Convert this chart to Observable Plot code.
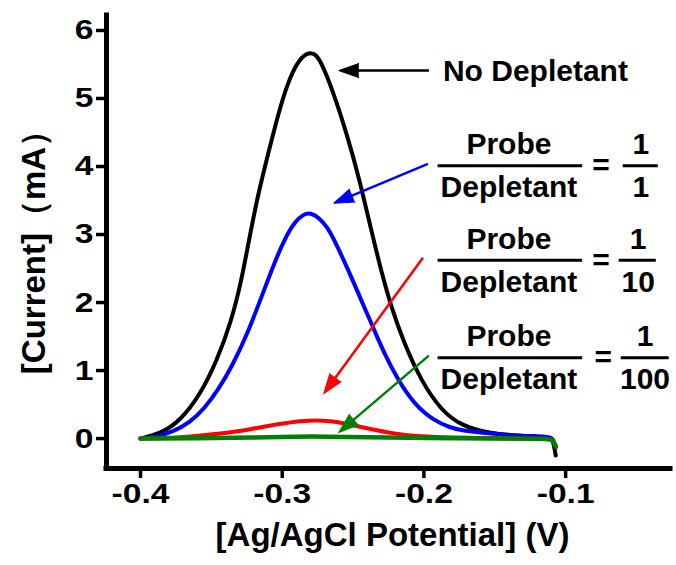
<!DOCTYPE html>
<html><head><meta charset="utf-8">
<script src="https://cdn.jsdelivr.net/npm/d3@7"></script>
<script src="https://cdn.jsdelivr.net/npm/@observablehq/plot@0.6"></script>
<style>
html,body{margin:0;padding:0;background:#fff;}
#chart{width:676px;height:565px;}
</style></head><body><div id="chart"></div>
<script>
// ---- data ----
const blackX = [-0.400,-0.386,-0.372,-0.358,-0.346,-0.336,-0.329,-0.324,-0.317,-0.310,-0.303,-0.296,-0.289,-0.282,-0.277,-0.273,-0.264,-0.254,-0.246,-0.237,-0.230,-0.223,-0.214,-0.202,-0.188,-0.174,-0.153,-0.131,-0.112,-0.109,-0.107];
const blackY = [0,0.07,0.26,0.64,1.15,1.72,2.30,2.86,3.60,4.18,4.76,5.24,5.55,5.68,5.66,5.56,5.10,4.45,3.85,3.05,2.45,1.93,1.40,0.85,0.42,0.19,0.07,0.04,0.015,0,-0.25];
const blueX = [-0.400,-0.390,-0.377,-0.365,-0.355,-0.345,-0.335,-0.325,-0.315,-0.306,-0.298,-0.291,-0.285,-0.280,-0.274,-0.268,-0.264,-0.254,-0.245,-0.237,-0.228,-0.218,-0.207,-0.193,-0.181,-0.174,-0.153,-0.131,-0.112,-0.109,-0.107];
const blueY = [0,0.02,0.10,0.24,0.44,0.72,1.08,1.52,2.06,2.56,2.95,3.19,3.30,3.32,3.25,3.10,2.95,2.51,2.07,1.69,1.25,0.85,0.51,0.26,0.16,0.12,0.07,0.04,0.03,0.01,-0.13];
const redX = [-0.400,-0.379,-0.360,-0.336,-0.322,-0.301,-0.287,-0.276,-0.266,-0.255,-0.240,-0.221,-0.202,-0.181,-0.146,-0.112,-0.109,-0.107];
const redY = [0,0.01,0.04,0.09,0.14,0.22,0.26,0.27,0.26,0.22,0.15,0.07,0.03,0.015,0.0,0.0,-0.02,-0.1];
const greenX = [-0.400,-0.360,-0.320,-0.290,-0.270,-0.240,-0.200,-0.150,-0.112,-0.109,-0.107];
const greenY = [0,0.005,0.015,0.03,0.03,0.02,0.01,0.0,0,-0.02,-0.12];

const xTicks = [-0.4,-0.3,-0.2,-0.1];
const yTicks = [0,1,2,3,4,5,6];
const xLabel = "[Ag/AgCl Potential] (V)";
const yLabel = "[Current]（mA）";

// annotations (data units)
const noteText = "No Depletant";
const noteX = -0.1866, noteY = 5.40;
const arrowStartX = [-0.1965,-0.1972,-0.2007,-0.1965];
const arrowStartY = [5.41,4.04,2.66,1.22];
const arrowTipX = [-0.2601,-0.2636,-0.2707,-0.2601];
const arrowTipY = [5.41,3.46,0.66,0.09];
const fracBarY = [4.01,2.62,1.19];
const fracWordX = -0.140, fracBarX1 = -0.190, fracBarX2 = -0.088;
const fracNumerator = "Probe", fracDenominator = "Depletant";
const ratioNum = ["1","1","1"];
const ratioDen = ["1","10","100"];
const ratioX = [-0.047,-0.0488,-0.044];
const ratioBarX1 = [-0.0594,-0.0622,-0.0608];
const ratioBarX2 = [-0.0346,-0.0360,-0.0269];
const eqX = [-0.075,-0.075,-0.0735];

// ---- layout ----
const W = 676, H = 565;
const mL = 106, mR = 6, mT = 15, mB = 97;
const xDomain = [-0.424, -0.026], yDomain = [-0.44, 6.22];
const kx = (W - mL - mR) / (xDomain[1] - xDomain[0]);
const ky = (H - mT - mB) / (yDomain[1] - yDomain[0]);

const seriesDefs = [
  {x: blackX, y: blackY, color: "#000000", w: 4},
  {x: blueX, y: blueY, color: "#0000ff", w: 4},
  {x: redX, y: redY, color: "#ff0000", w: 4},
  {x: greenX, y: greenY, color: "#008000", w: 4.5}
];
const arrowColors = ["#000000","#0000ff","#ff0000","#008000"];

const arrows = arrowStartX.map((x1, i) => {
  const x2 = arrowTipX[i], y2 = arrowTipY[i], y1 = arrowStartY[i];
  const dxp = (x2 - x1) * kx, dyp = -(y2 - y1) * ky;
  const len = Math.hypot(dxp, dyp);
  const f = (len - 12) / len;
  return {x1, y1, x2, y2, sx: x1 + (x2 - x1) * f, sy: y1 + (y2 - y1) * f,
          angle: Math.atan2(dxp, -dyp) * 180 / Math.PI, color: arrowColors[i]};
});

const font = "'Liberation Sans', Arial, Helvetica, sans-serif";
const marks = [];
// axis lines
marks.push(Plot.ruleX([xDomain[0]], {y1: yDomain[0], y2: yDomain[1], stroke: "#000", strokeWidth: 5, strokeLinecap: "square"}));
marks.push(Plot.ruleY([yDomain[0]], {x1: xDomain[0], x2: xDomain[1], stroke: "#000", strokeWidth: 5, strokeLinecap: "square"}));
marks.push(Plot.axisX({ticks: xTicks, tickFormat: d => d.toFixed(1), tickSize: 10, tickPadding: 5, strokeWidth: 3.5, fontSize: 28, fontWeight: "bold", label: null}));
marks.push(Plot.axisY({ticks: yTicks, tickFormat: d => String(d), tickSize: 10, tickPadding: 3, strokeWidth: 3.5, fontSize: 28, fontWeight: "bold", label: null}));
// curves
for (const s of seriesDefs) {
  const rows = s.x.map((x, i) => ({x, y: s.y[i]}));
  marks.push(Plot.line(rows, {x: "x", y: "y", stroke: s.color, strokeWidth: s.w, curve: "basis", strokeLinejoin: "round", strokeLinecap: "round"}));
}
// arrows
marks.push(Plot.link(arrows, {x1: "x1", y1: "y1", x2: "sx", y2: "sy", stroke: d => d.color, strokeWidth: 2.5}));
marks.push(Plot.vector(arrows, {x: "x2", y: "y2", rotate: "angle", length: 20, anchor: "end", shape: "spike", r: 7, fill: d => d.color, stroke: d => d.color, strokeWidth: 1, fillOpacity: 1}));
// annotation text
marks.push(Plot.text([noteText], {x: noteX, y: noteY, text: d => d, textAnchor: "start", fontSize: 30, fontWeight: "bold"}));
marks.push(Plot.ruleY(fracBarY, {x1: fracBarX1, x2: fracBarX2, stroke: "#000", strokeWidth: 3}));
marks.push(Plot.text(fracBarY, {x: fracWordX, y: d => d, text: () => fracNumerator, dy: -21, fontSize: 30, fontWeight: "bold"}));
marks.push(Plot.text(fracBarY, {x: fracWordX, y: d => d, text: () => fracDenominator, dy: 22, fontSize: 30, fontWeight: "bold"}));
marks.push(Plot.text(fracBarY, {x: (d, i) => eqX[i], y: d => d, text: () => "=", dy: 0, fontSize: 30, fontWeight: "bold"}));
marks.push(Plot.ruleY(fracBarY, {x1: (d, i) => ratioBarX1[i], x2: (d, i) => ratioBarX2[i], stroke: "#000", strokeWidth: 3}));
marks.push(Plot.text(fracBarY, {x: (d, i) => ratioX[i], y: d => d, text: (d, i) => ratioNum[i], dy: -21, fontSize: 30, fontWeight: "bold"}));
marks.push(Plot.text(fracBarY, {x: (d, i) => ratioX[i], y: d => d, text: (d, i) => ratioDen[i], dy: 22, fontSize: 30, fontWeight: "bold"}));
// axis titles
marks.push(Plot.text([xLabel], {frameAnchor: "bottom", text: d => d, dx: 4, dy: 77, fontSize: 33, fontWeight: "bold"}));
marks.push(Plot.text([yLabel], {frameAnchor: "left", textAnchor: "middle", text: d => d, rotate: -90, dx: -72, dy: 2, fontSize: 33, fontWeight: "bold"}));

const chart = Plot.plot({
  width: W, height: H,
  marginLeft: mL, marginRight: mR, marginTop: mT, marginBottom: mB,
  x: {domain: xDomain},
  y: {domain: yDomain},
  style: {fontFamily: font, fontWeight: "bold", color: "#000", background: "#fff", overflow: "visible"},
  marks
});
// widen tick labels horizontally (reference uses a wide bold face for ticks)
chart.querySelectorAll('g[aria-label="x-axis tick label"] text, g[aria-label="y-axis tick label"] text').forEach(t => {
  const tr = t.getAttribute("transform");
  if (tr) t.setAttribute("transform", tr + " scale(1.2,1)");
  else {
    const x = +t.getAttribute("x") || 0, y = +t.getAttribute("y") || 0;
    t.removeAttribute("x"); t.removeAttribute("y");
    t.setAttribute("transform", `translate(${x},${y}) scale(1.2,1)`);
  }
});
document.getElementById("chart").appendChild(chart);
</script></body></html>
